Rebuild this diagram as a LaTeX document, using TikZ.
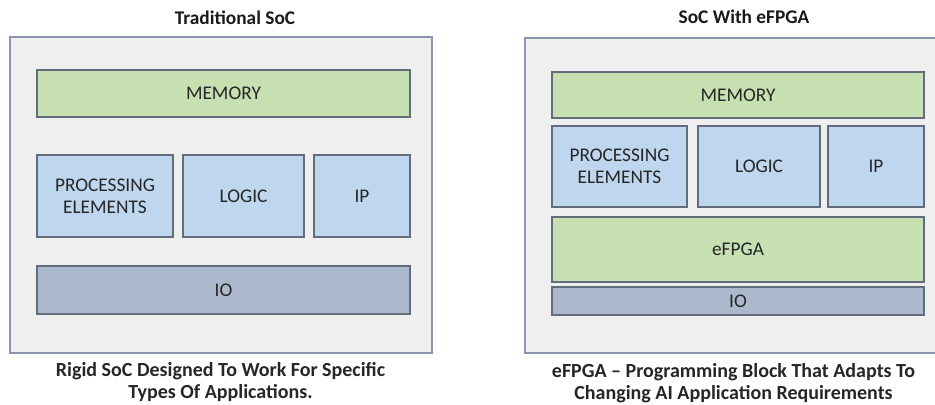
\documentclass[tikz,border=0pt]{standalone}
\usepackage{fontspec}
\setmainfont{Carlito}
\definecolor{socgray}{RGB}{239, 239, 240}
\definecolor{socedge}{RGB}{140, 148, 178}
\definecolor{blkedge}{RGB}{98, 108, 122}
\definecolor{memgreen}{RGB}{198, 224, 178}
\definecolor{peblue}{RGB}{190, 214, 238}
\definecolor{iogray}{RGB}{172, 184, 204}
\usetikzlibrary{positioning}
\tikzset{
  socbox/.style={draw=socedge, fill=socgray, line width=0.8pt, inner sep=0pt},
  blk/.style={draw=blkedge, line width=0.8pt, text=black!85, align=center, inner sep=0pt},
  mem/.style={blk, fill=memgreen},
  core/.style={blk, fill=peblue},
  io/.style={blk, fill=iogray},
  heading/.style={font=\fontsize{14.5}{16.5}\selectfont\bfseries, text=black!90},
  caption/.style={font=\fontsize{15}{16.5}\selectfont\bfseries, text=black!85, align=center}
}

\begin{document}
\begin{tikzpicture}[x=0.75pt, y=-0.75pt, font=\fontsize{14.5}{16.5}\selectfont]
  \path[use as bounding box, clip] (0,0) rectangle (935,404);

  % traditional SoC
  \node[heading] (tradtitle) at (235,18) {Traditional SoC};
  \node[socbox, minimum width=316.5pt, minimum height=237pt] (tradsoc) at (221,195) {};
  \node[mem, minimum width=279.75pt, minimum height=35.25pt] (tradmem) at (223.5,93.5) {MEMORY};
  \node[core, minimum width=102pt, minimum height=61.5pt] (tradpe) at (105,196) {PROCESSING\\ELEMENTS};
  \node[core, minimum width=90.75pt, minimum height=61.5pt] (tradlogic) at (243.5,196) {LOGIC};
  \node[core, minimum width=72pt, minimum height=61.5pt] (tradip) at (362,196) {IP};
  \node[io, minimum width=279.75pt, minimum height=36pt] (tradio) at (223.5,290) {IO};
  \node[caption] (tradcap) at (220.5,382) {Rigid SoC Designed To Work For Specific\\Types Of Applications.};

  % SoC with eFPGA
  \node[heading] (fpgatitle) at (744,17) {SoC With eFPGA};
  \node[socbox, minimum width=315pt, minimum height=236.25pt] (fpgasoc) at (735,195.5) {};
  \node[mem, minimum width=279pt, minimum height=34.5pt] (fpgamem) at (738,95) {MEMORY};
  \node[core, minimum width=101.25pt, minimum height=60.75pt] (fpgape) at (619.5,166.5) {PROCESSING\\ELEMENTS};
  \node[core, minimum width=91.5pt, minimum height=60.75pt] (fpgalogic) at (759,166.5) {LOGIC};
  \node[core, minimum width=72pt, minimum height=60.75pt] (fpgaip) at (876,166.5) {IP};
  \node[mem, minimum width=279pt, minimum height=48.75pt] (fpgablk) at (738,249.5) {eFPGA};
  \node[io, minimum width=279pt, minimum height=21pt] (fpgaio) at (738,301) {IO};
  \node[caption] (fpgacap) at (733.5,383.5) {eFPGA -- Programming Block That Adapts To\\Changing AI Application Requirements};
\end{tikzpicture}
\end{document}
